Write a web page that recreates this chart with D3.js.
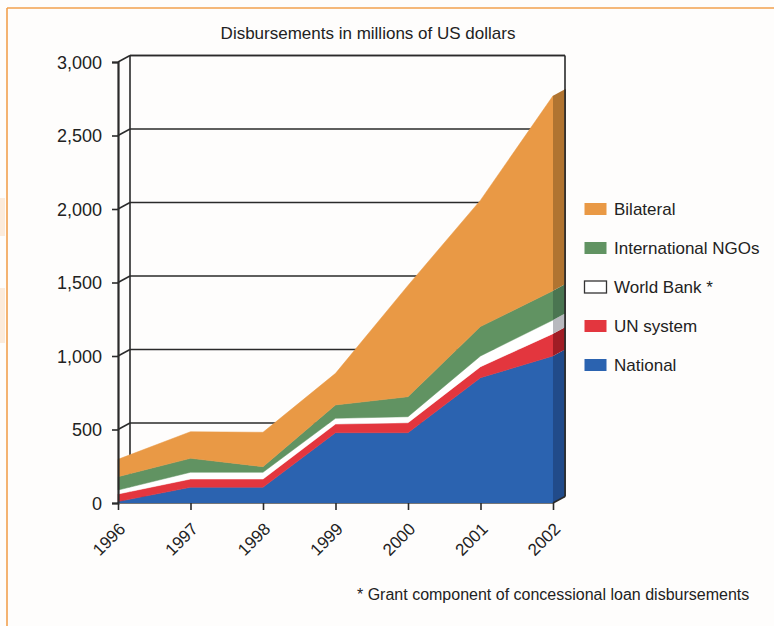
<!DOCTYPE html>
<html><head><meta charset="utf-8">
<script src="https://cdn.jsdelivr.net/npm/d3@7"></script>
<style>
html,body{margin:0;padding:0;background:#fefdfc;}
svg{display:block;font-family:"Liberation Sans",Arial,sans-serif;}
</style></head>
<body>
<svg id="c" width="774" height="626"></svg>
<script>
const years = [1996, 1997, 1998, 1999, 2000, 2001, 2002];
const national   = [10, 107, 107, 478, 478, 852, 1000];
const unSystem   = [51, 56, 56, 59, 68, 75, 152];
const worldBank  = [27, 46, 46, 39, 41, 73, 93];
const intlNGOs   = [91, 95, 38, 91, 136, 200, 199];
const bilateral  = [118, 181, 234, 215, 757, 860, 1326];
const seriesNames = ["National", "UN system", "World Bank *", "International NGOs", "Bilateral"];
const yTicks = [0, 500, 1000, 1500, 2000, 2500, 3000];
const legendOrder = ["Bilateral", "International NGOs", "World Bank *", "UN system", "National"];
const title = "Disbursements in millions of US dollars";
const footnote = "* Grant component of concessional loan disbursements";

const colors = {"National":"#2b63b0","UN system":"#e3363e","World Bank *":"#ffffff","International NGOs":"#619362","Bilateral":"#e99945"};
const sideColors = {"National":"#214b8a","UN system":"#a01d25","World Bank *":"#b8b9be","International NGOs":"#4a7551","Bilateral":"#b07431"};

const table = years.map((y,i)=>({year:y,"National":national[i],"UN system":unSystem[i],"World Bank *":worldBank[i],"International NGOs":intlNGOs[i],"Bilateral":bilateral[i]}));
const stacked = d3.stack().keys(seriesNames)(table);

const svg = d3.select("#c");
const x = d3.scaleLinear().domain([1996,2002]).range([118,553]);
const y = d3.scaleLinear().domain([0,3000]).range([503,62]);
const dx = 12, dy = -6.5;
const ink = "#2a2a2a";
const FONT = "Liberation Sans, Arial, sans-serif";

// frame
svg.append("line").attr("x1",7).attr("y1",8).attr("x2",774).attr("y2",8).attr("stroke","#f2a04e").attr("stroke-width",1.6);
svg.append("line").attr("x1",7).attr("y1",8).attr("x2",7).attr("y2",626).attr("stroke","#f2a04e").attr("stroke-width",1.6);
// faint watermark shapes at left edge
svg.append("rect").attr("x",0).attr("y",198).attr("width",5).attr("height",38).attr("fill","#fcebdb");
svg.append("rect").attr("x",0).attr("y",288).attr("width",5).attr("height",55).attr("fill","#fcebdb");

// title
svg.append("text").attr("x",368).attr("y",39).attr("text-anchor","middle").attr("font-size",17).attr("fill","#222").text(title);

// back wall
const g = svg.append("g");
g.append("line").attr("x1",x(1996)+dx).attr("y1",y(3000)+dy).attr("x2",x(2002)+dx).attr("y2",y(3000)+dy).attr("stroke",ink).attr("stroke-width",1.6);
g.append("line").attr("x1",x(2002)+dx).attr("y1",y(3000)+dy).attr("x2",x(2002)+dx).attr("y2",y(0)+dy).attr("stroke",ink).attr("stroke-width",1.6);
g.append("line").attr("x1",x(1996)+dx).attr("y1",y(3000)+dy).attr("x2",x(1996)+dx).attr("y2",y(0)+dy).attr("stroke",ink).attr("stroke-width",1.6);
yTicks.forEach(t=>{
  g.append("line").attr("x1",x(1996)+dx).attr("y1",y(t)+dy).attr("x2",x(2002)+dx).attr("y2",y(t)+dy).attr("stroke",ink).attr("stroke-width",1.5);
  g.append("line").attr("x1",x(1996)).attr("y1",y(t)).attr("x2",x(1996)+dx).attr("y2",y(t)+dy).attr("stroke",ink).attr("stroke-width",1.5);
});

// areas
const area = d3.area().x(d=>x(d.data.year)).y0(d=>y(d[0])).y1(d=>y(d[1]));
svg.append("g").selectAll("path").data(stacked).join("path")
  .attr("d",area).attr("fill",d=>colors[d.key]).attr("stroke",d=>colors[d.key]).attr("stroke-width",0.5);

// side faces at 2002
const last = years.length-1;
svg.append("g").selectAll("path").data(stacked).join("path")
  .attr("d",d=>{const p=d[last];const X=x(years[last]);
    return `M${X},${y(p[0])}L${X},${y(p[1])}L${X+dx},${y(p[1])+dy}L${X+dx},${y(p[0])+dy}Z`;})
  .attr("fill",d=>sideColors[d.key]);
svg.append("line").attr("x1",x(2002)+dx).attr("y1",y(stacked[4][last][1])+dy).attr("x2",x(2002)+dx).attr("y2",y(0)+dy).attr("stroke",ink).attr("stroke-width",1.6);
svg.append("line").attr("x1",x(2002)).attr("y1",y(0)).attr("x2",x(2002)+dx).attr("y2",y(0)+dy).attr("stroke",ink).attr("stroke-width",1.6);

// y axis (front)
const yAxis = d3.axisLeft(y).tickValues(yTicks).tickFormat(d3.format(",")).tickSize(6).tickPadding(10);
const ya = svg.append("g").attr("transform",`translate(${x(1996)},0)`).call(yAxis);
ya.attr("font-size",null).attr("font-family",null);
ya.select(".domain").attr("stroke",ink).attr("stroke-width",2.2);
ya.selectAll(".tick line").attr("stroke",ink).attr("stroke-width",1.6);
ya.selectAll(".tick text").attr("font-size",18).attr("fill","#222").attr("font-family",FONT).attr("dy","0.36em");

// x axis (front)
const xAxis = d3.axisBottom(x).tickValues(years).tickFormat(d3.format("d")).tickSize(7).tickSizeOuter(0);
const xa = svg.append("g").attr("transform",`translate(0,${y(0)})`).call(xAxis);
xa.attr("font-size",null).attr("font-family",null);
xa.select(".domain").attr("stroke","#777").attr("stroke-width",1);
xa.selectAll(".tick line").attr("stroke",ink).attr("stroke-width",1.6);
xa.selectAll(".tick text").attr("font-size",17).attr("fill","#222").attr("font-family",FONT)
  .attr("text-anchor","end").attr("dy",0).attr("y",0).attr("x",0).attr("transform","translate(8,27) rotate(-45)");

// legend
const lg = svg.append("g");
legendOrder.forEach((k,i)=>{
  const cy = 209 + i*39;
  lg.append("rect").attr("x",584.5).attr("y",cy-6).attr("width",22).attr("height",12)
    .attr("fill",colors[k]).attr("stroke",k==="World Bank *"?"#333":"none").attr("stroke-width",1.3);
  lg.append("text").attr("x",614).attr("y",cy+6).attr("font-size",17).attr("fill","#222").text(k);
});

// footnote
svg.append("text").attr("x",357).attr("y",600).attr("font-size",16).attr("fill","#222").text(footnote);
</script>
</body></html>
